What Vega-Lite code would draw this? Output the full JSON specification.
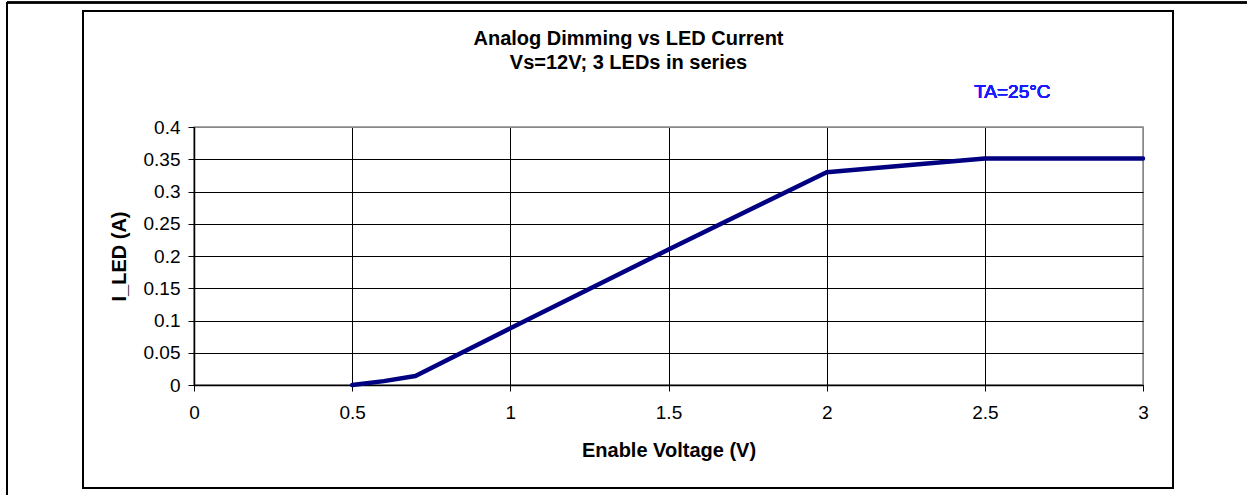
{
  "$schema": "https://vega.github.io/schema/vega-lite/v6.json",
  "autosize": "none",
  "width": 949,
  "height": 258,
  "padding": {"left": 194, "top": 127, "right": 104, "bottom": 110},
  "background": "white",
  "title": {
    "text": ["Analog Dimming vs LED Current", "Vs=12V; 3 LEDs in series"],
    "font": "Liberation Sans",
    "fontSize": 20,
    "fontWeight": "bold",
    "color": "black",
    "anchor": "middle",
    "frame": "group",
    "dx": -40,
    "offset": -71,
    "lineHeight": 24
  },
  "config": {
    "view": {"stroke": "#888888", "strokeWidth": 1.5},
    "axis": {
      "labelFont": "Liberation Sans",
      "labelFontSize": 19,
      "labelColor": "black",
      "labelOverlap": false,
      "labelFlush": false,
      "titleFont": "Liberation Sans",
      "titleFontSize": 20,
      "titleFontWeight": "bold",
      "titleColor": "black",
      "domainColor": "black",
      "domainWidth": 1.5,
      "tickColor": "black",
      "tickSize": 6,
      "gridOpacity": 1,
      "gridWidth": 1
    }
  },
  "data": {
    "values": [
      {"voltage": 0.5, "current": 0.0},
      {"voltage": 0.6, "current": 0.006},
      {"voltage": 0.7, "current": 0.014},
      {"voltage": 1.0, "current": 0.088},
      {"voltage": 1.5, "current": 0.21},
      {"voltage": 2.0, "current": 0.33},
      {"voltage": 2.5, "current": 0.351},
      {"voltage": 3.0, "current": 0.351}
    ]
  },
  "layer": [
    {
      "mark": {"type": "line", "color": "#000080", "strokeWidth": 4.5, "strokeCap": "round", "strokeJoin": "round"},
      "encoding": {
        "x": {
          "field": "voltage",
          "type": "quantitative",
          "scale": {"domain": [0, 3], "nice": false, "zero": false},
          "axis": {
            "values": [0, 0.5, 1, 1.5, 2, 2.5, 3],
            "tickCount": 30,
            "format": "~g",
            "title": "Enable Voltage (V)",
            "grid": true,
            "gridColor": {"condition": {"test": "datum.value === 3", "value": "#888888"}, "value": "black"},
            "labelPadding": 12,
            "titlePadding": 18
          }
        },
        "y": {
          "field": "current",
          "type": "quantitative",
          "scale": {"domain": [0, 0.4], "nice": false, "zero": false},
          "axis": {
            "values": [0, 0.05, 0.1, 0.15, 0.2, 0.25, 0.3, 0.35, 0.4],
            "tickCount": 30,
            "format": "~g",
            "title": "I_LED (A)",
            "grid": true,
            "gridColor": {"condition": {"test": "datum.value === 0.4", "value": "#888888"}, "value": "black"},
            "labelPadding": 8,
            "titlePadding": 14
          }
        }
      }
    },
    {
      "mark": {"type": "rect", "fill": "white", "fillOpacity": 0, "stroke": "black", "strokeWidth": 1.5},
      "encoding": {
        "x": {"datum": -0.3509, "type": "quantitative"},
        "x2": {"datum": 3.0949},
        "y": {"datum": 0.5798, "type": "quantitative"},
        "y2": {"datum": -0.1597}
      }
    },
    {
      "mark": {"type": "rule", "stroke": "black", "strokeWidth": 1.5},
      "encoding": {
        "x": {"datum": -0.5911, "type": "quantitative"},
        "x2": {"datum": 3.5},
        "y": {"datum": 0.593, "type": "quantitative"}
      }
    },
    {
      "mark": {"type": "rule", "stroke": "black", "strokeWidth": 1.5},
      "encoding": {
        "x": {"datum": -0.5911, "type": "quantitative"},
        "y": {"datum": 0.593, "type": "quantitative"},
        "y2": {"datum": -0.2}
      }
    },
    {
      "mark": {"type": "text", "text": "TA=25°C", "font": "Liberation Sans", "fontSize": 19, "fontWeight": "normal", "color": "#1a1aff", "align": "center", "baseline": "alphabetic"},
      "encoding": {
        "x": {"datum": 2.587, "type": "quantitative"},
        "y": {"datum": 0.445, "type": "quantitative"}
      }
    }
  ]
}
